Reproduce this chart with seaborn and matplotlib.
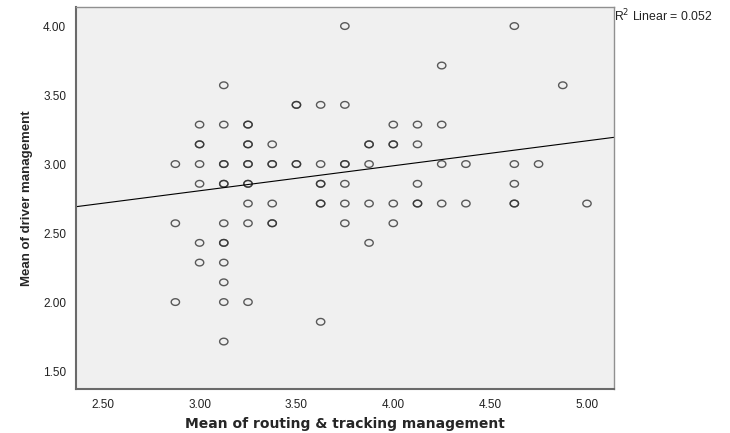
import numpy as np
import pandas as pd
import matplotlib
matplotlib.use("Agg")
import matplotlib.pyplot as plt
from matplotlib.path import Path
import seaborn as sns

# Data (x in eighths, y in sevenths); repeated pairs are overlapping points
x_vals = [2.875, 2.875, 2.875,
          3.0, 3.0, 3.0, 3.0, 3.0, 3.0, 3.0,
          3.125, 3.125, 3.125, 3.125, 3.125, 3.125, 3.125, 3.125, 3.125, 3.125, 3.125, 3.125, 3.125,
          3.25, 3.25, 3.25, 3.25, 3.25, 3.25, 3.25, 3.25, 3.25, 3.25, 3.25,
          3.375, 3.375, 3.375, 3.375, 3.375, 3.375,
          3.5, 3.5, 3.5, 3.5,
          3.625, 3.625, 3.625, 3.625, 3.625, 3.625, 3.625,
          3.75, 3.75, 3.75, 3.75, 3.75, 3.75, 3.75,
          3.875, 3.875, 3.875, 3.875, 3.875,
          4.0, 4.0, 4.0, 4.0, 4.0,
          4.125, 4.125, 4.125, 4.125, 4.125,
          4.25, 4.25, 4.25, 4.25,
          4.375, 4.375,
          4.625, 4.625, 4.625, 4.625, 4.625,
          4.75,
          4.875,
          5.0]
y_vals = [3.0, 2.571, 2.0,
          3.286, 3.143, 3.143, 3.0, 2.857, 2.429, 2.286,
          3.571, 3.286, 3.0, 3.0, 2.857, 2.857, 2.571, 2.429, 2.429, 2.286, 2.143, 2.0, 1.714,
          3.286, 3.286, 3.143, 3.143, 3.0, 3.0, 2.857, 2.857, 2.714, 2.571, 2.0,
          3.143, 3.0, 3.0, 2.714, 2.571, 2.571,
          3.429, 3.429, 3.0, 3.0,
          3.429, 3.0, 2.857, 2.857, 2.714, 2.714, 1.857,
          4.0, 3.429, 3.0, 3.0, 2.857, 2.714, 2.571,
          3.143, 3.143, 3.0, 2.714, 2.429,
          3.286, 3.143, 3.143, 2.714, 2.571,
          3.286, 3.143, 2.857, 2.714, 2.714,
          3.714, 3.286, 3.0, 2.714,
          3.0, 2.714,
          4.0, 3.0, 2.857, 2.714, 2.714,
          3.0,
          3.571,
          2.714]
# Fit line as drawn in the picture (SPSS "R2 Linear" line)
fit_intercept = 2.2635
fit_slope = 0.181
x_ticks = [2.5, 3.0, 3.5, 4.0, 4.5, 5.0]
y_ticks = [1.5, 2.0, 2.5, 3.0, 3.5, 4.0]
r2_text = "R$^2$ Linear = 0.052"

df = pd.DataFrame({"routing": x_vals, "driver": y_vals})

sns.set_style("white")
plt.rcParams["font.family"] = ["Liberation Sans", "DejaVu Sans"]

fig = plt.figure(figsize=(7.30, 4.33), dpi=100)
ax = fig.add_axes([0.1041, 0.1016, 0.7366, 0.8822])
ax.set_facecolor("#f0f0f0")
xlim = (2.362, 5.138)
ylim = (1.37, 4.138)
ax.set_xlim(*xlim)
ax.set_ylim(*ylim)

t = np.linspace(0, 2 * np.pi, 41)
ellipse = Path(np.column_stack([0.5 * np.cos(t), 0.4 * np.sin(t)]), closed=True)

sns.regplot(data=df, x="routing", y="driver", ax=ax, fit_reg=False, marker=ellipse,
            scatter_kws=dict(s=36, facecolors="none", edgecolors=(0.2, 0.2, 0.2, 0.65),
                             linewidths=1.0))
ax.axline((0, fit_intercept), slope=fit_slope, color="black", lw=0.8)
ax.set_xlim(*xlim)
ax.set_ylim(*ylim)

ax.set_xticks(x_ticks)
ax.set_yticks(y_ticks)
ax.set_xticklabels([f"{v:.2f}" for v in x_ticks], fontsize=8.5, color="#222222")
ax.set_yticklabels([f"{v:.2f}" for v in y_ticks], fontsize=8.5, color="#222222")
ax.tick_params(axis="both", direction="out", length=6, width=1.2, color="#555555", pad=1)
ax.tick_params(axis="x", pad=1.5)

for side in ["left", "bottom"]:
    ax.spines[side].set_color("#6a6a6a")
    ax.spines[side].set_linewidth(1.5)
for side in ["top", "right"]:
    ax.spines[side].set_color("#909090")
    ax.spines[side].set_linewidth(1.0)
for s in ax.spines.values():
    s.set_visible(True)

ax.set_xlabel("Mean of routing & tracking management", fontsize=10, fontweight="bold",
              family=["DejaVu Sans"], labelpad=4)
ax.set_ylabel("Mean of driver management", fontsize=9.5, fontweight="bold", labelpad=7)

fig.text(614 / 730, 1 - 16 / 433, r2_text, fontsize=8.8, ha="left", va="center", color="#222222")

fig.savefig("out.png", dpi=100)
